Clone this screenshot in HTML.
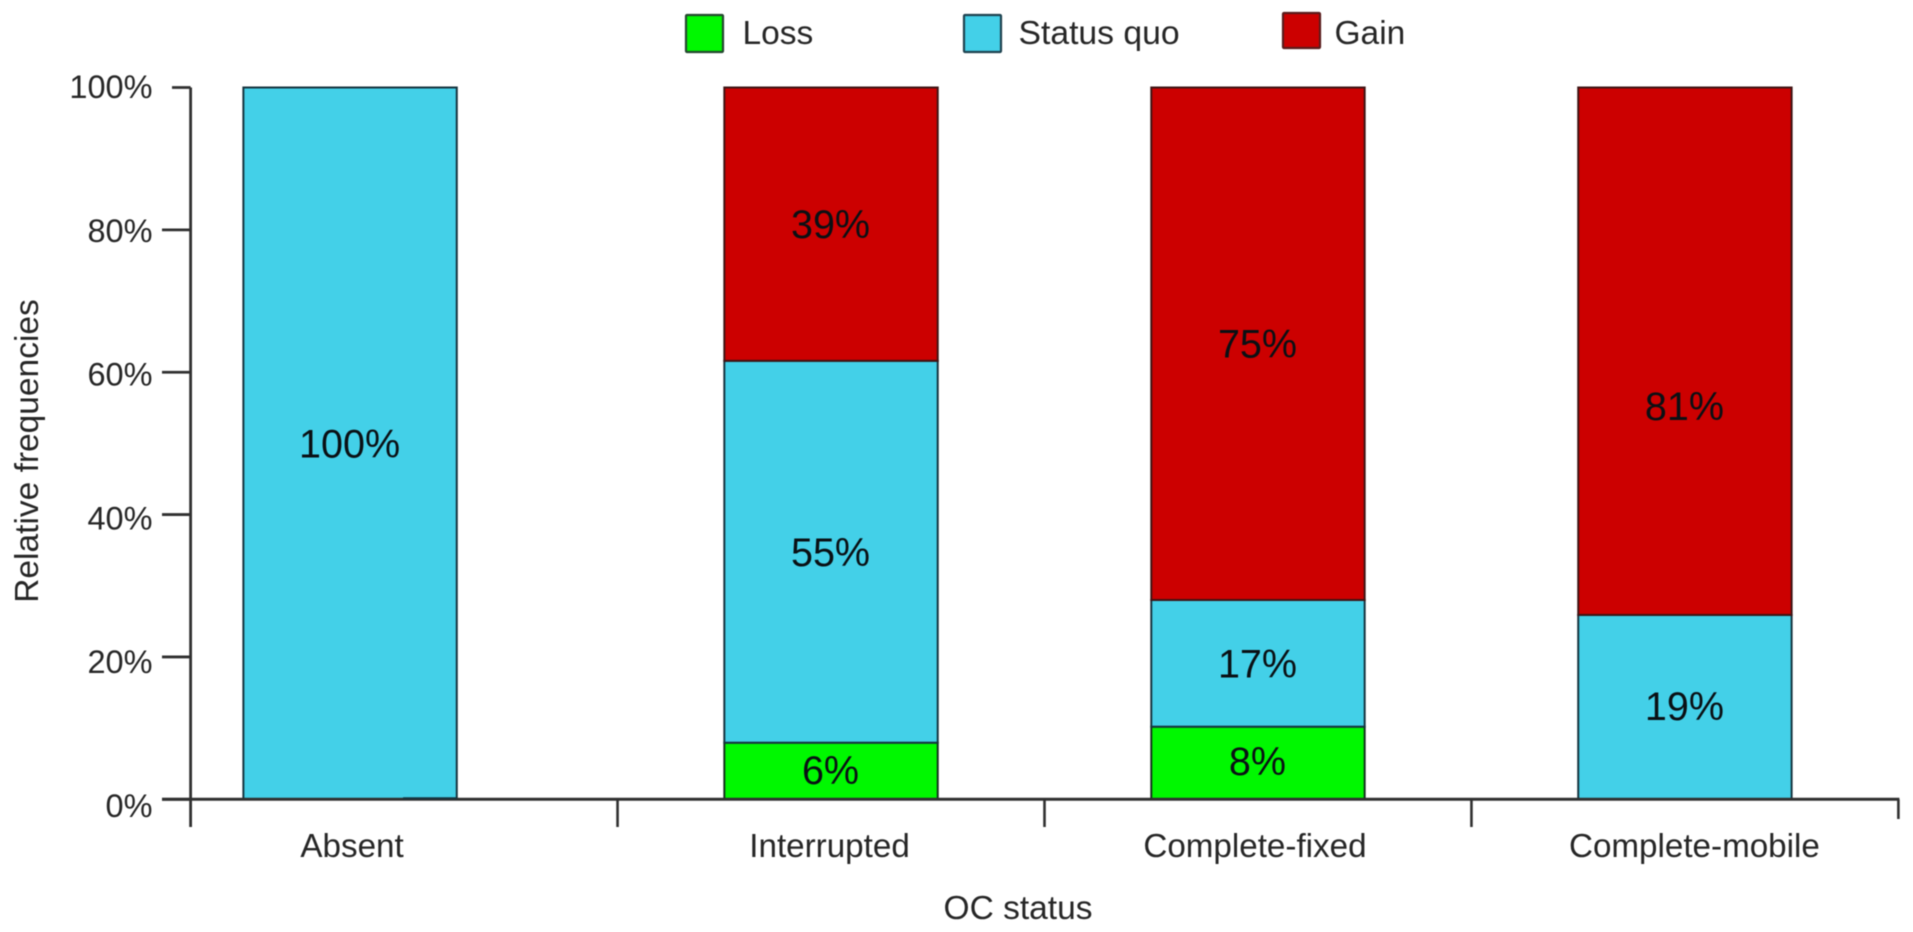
<!DOCTYPE html>
<html lang="en">
<head>
<meta charset="utf-8">
<title>Relative frequencies by OC status</title>
<style>
  html, body { margin: 0; padding: 0; background: #ffffff; }
  #chart { display: block; width: 1913px; height: 932px; filter: blur(0.55px); }
  text { font-family: "Liberation Sans", Arial, sans-serif; }
</style>
</head>
<body>
<svg id="chart" xmlns="http://www.w3.org/2000/svg" width="1913" height="932" viewBox="0 0 1913 932">
  <rect x="0" y="0" width="1913" height="932" fill="#ffffff"/>
  <g id="bars"></g>
  <g id="axes"></g>
  <g id="legend">
    <g>
      <rect x="686" y="15" width="37" height="37" fill="#00f800" stroke="#24482f" stroke-width="2.2" rx="1"/>
      <text x="742.5" y="44" font-size="33.5" fill="#262626">Loss</text>
    </g>
    <g>
      <rect x="964" y="15" width="37" height="37" fill="#43d0e8" stroke="#1f4350" stroke-width="2.2" rx="1"/>
      <text x="1018.5" y="44" font-size="33.7" fill="#262626">Status quo</text>
    </g>
    <g>
      <rect x="1283" y="13" width="37" height="35" fill="#cc0000" stroke="#5a1c1c" stroke-width="2.2" rx="1"/>
      <text x="1334.5" y="44" font-size="33.5" fill="#262626">Gain</text>
    </g>
  </g>
  <text x="1018" y="919" font-size="33.5" fill="#262626" text-anchor="middle">OC status</text>
  <text transform="translate(38,451) rotate(-90)" font-size="33.5" fill="#262626" text-anchor="middle">Relative frequencies</text>
</svg>
<script>
// ----- chart data -----
var categories = ["Absent", "Interrupted", "Complete-fixed", "Complete-mobile"];
var lossValues = [0, 7.95, 10.2, 0];
var statusQuoValues = [100, 53.65, 17.8, 25.9];
var gainValues = [0, 38.4, 72, 74.1];
var lossLabels = ["", "6%", "8%", ""];
var statusQuoLabels = ["100%", "55%", "17%", "19%"];
var gainLabels = ["", "39%", "75%", "81%"];
var yTicks = [0, 20, 40, 60, 80, 100];
var yTickLabels = ["0%", "20%", "40%", "60%", "80%", "100%"];

// ----- axis functions -----
var Y_ZERO = 799.3, Y_TOP = 87.5, X_LEFT = 190.6, BAND = 426.95, BAR_W = 213.4;
function yScale(v) { return Y_ZERO - (v / 100) * (Y_ZERO - Y_TOP); }
function yTickLabelY(v) { return 817 - v * 7.19; }
function bandEdge(i) { return X_LEFT + i * BAND; }
function barCenter(i) { return bandEdge(i) + BAND / 2 + (i === 0 ? -54 : 0); }
function catLabelX(i) {
  if (i === 0) return barCenter(i) + 2;
  if (i === 1) return barCenter(i) - 1.5;
  if (i === 2) return barCenter(i) - 3;
  return barCenter(i) + 9.5;
}
// Value labels sit at the segment middle, with the small offsets seen in the figure.
function valueLabelShift(key, i) {
  if (key === "gain" && i === 3) return 55;
  if (key === "loss") return i === 2 ? -2 : -1;
  if (key === "status-quo" && i === 3) return -1;
  return 0;
}

var SVG_NS = "http://www.w3.org/2000/svg";
function make(parent, tag, attrs, content) {
  var el = document.createElementNS(SVG_NS, tag);
  for (var k in attrs) el.setAttribute(k, attrs[k]);
  if (content !== undefined) el.textContent = content;
  parent.appendChild(el);
  return el;
}

var barsGroup = document.getElementById("bars");
var axesGroup = document.getElementById("axes");

var seriesDefs = [
  { key: "loss", values: lossValues, labels: lossLabels, fill: "#00f800", stroke: "#14301e" },
  { key: "status-quo", values: statusQuoValues, labels: statusQuoLabels, fill: "#43d0e8", stroke: "#16343f" },
  { key: "gain", values: gainValues, labels: gainLabels, fill: "#cc0000", stroke: "#3f1414" }
];

categories.forEach(function (cat, i) {
  var base = 0;
  var cx = barCenter(i);
  seriesDefs.forEach(function (s) {
    var v = s.values[i];
    if (v > 0) {
      var y1 = yScale(base + v), y0 = yScale(base);
      var seg = make(barsGroup, "rect", {
        x: cx - BAR_W / 2, y: y1, width: BAR_W, height: y0 - y1,
        fill: s.fill, stroke: s.stroke, "stroke-width": 2
      });
      
      
    }
    base += v;
  });
});

categories.forEach(function (cat, i) {
  var base = 0;
  var cx = barCenter(i);
  seriesDefs.forEach(function (s) {
    var v = s.values[i];
    if (v > 0 && s.labels[i]) {
      var mid = (yScale(base + v) + yScale(base)) / 2;
      var t = make(barsGroup, "text", {
        x: cx - 0.5, y: mid + 14 + valueLabelShift(s.key, i), "font-size": 39.5,
        "text-anchor": "middle", fill: "#0a1014"
      }, s.labels[i]);
      
      
    }
    base += v;
  });
});

var AXIS_COLOR = "#303030";
var yAxis = make(axesGroup, "line", { x1: X_LEFT, y1: Y_TOP, x2: X_LEFT, y2: 827, stroke: AXIS_COLOR, "stroke-width": 2.8 });


var xAxis = make(axesGroup, "line", { x1: 162, y1: Y_ZERO, x2: bandEdge(4) + 1, y2: Y_ZERO, stroke: AXIS_COLOR, "stroke-width": 3 });



var baseMark = make(axesGroup, "line", { x1: barCenter(0) + 53, y1: Y_ZERO - 1, x2: barCenter(0) + BAR_W / 2, y2: Y_ZERO - 1, stroke: "#16343f", "stroke-width": 2 });



yTicks.forEach(function (v, i) {
  var tick = make(axesGroup, "line", {
    x1: v === 100 ? 172 : 162, y1: yScale(v), x2: X_LEFT, y2: yScale(v),
    stroke: AXIS_COLOR, "stroke-width": 2.8
  });
  
  
  var lab = make(axesGroup, "text", {
    x: 152.5, y: yTickLabelY(v), "font-size": 32.5, "text-anchor": "end", fill: "#262626"
  }, yTickLabels[i]);
  
  
});

for (var e = 1; e <= categories.length; e++) {
  var xt = make(axesGroup, "line", {
    x1: bandEdge(e), y1: Y_ZERO, x2: bandEdge(e), y2: e === categories.length ? 819 : 827,
    stroke: AXIS_COLOR, "stroke-width": 2.6
  });
  
  
}

categories.forEach(function (cat, i) {
  var cl = make(axesGroup, "text", {
    x: catLabelX(i), y: 857, "font-size": 33.2, "text-anchor": "middle", fill: "#262626"
  }, cat);
  
  
});
</script>
</body>
</html>
